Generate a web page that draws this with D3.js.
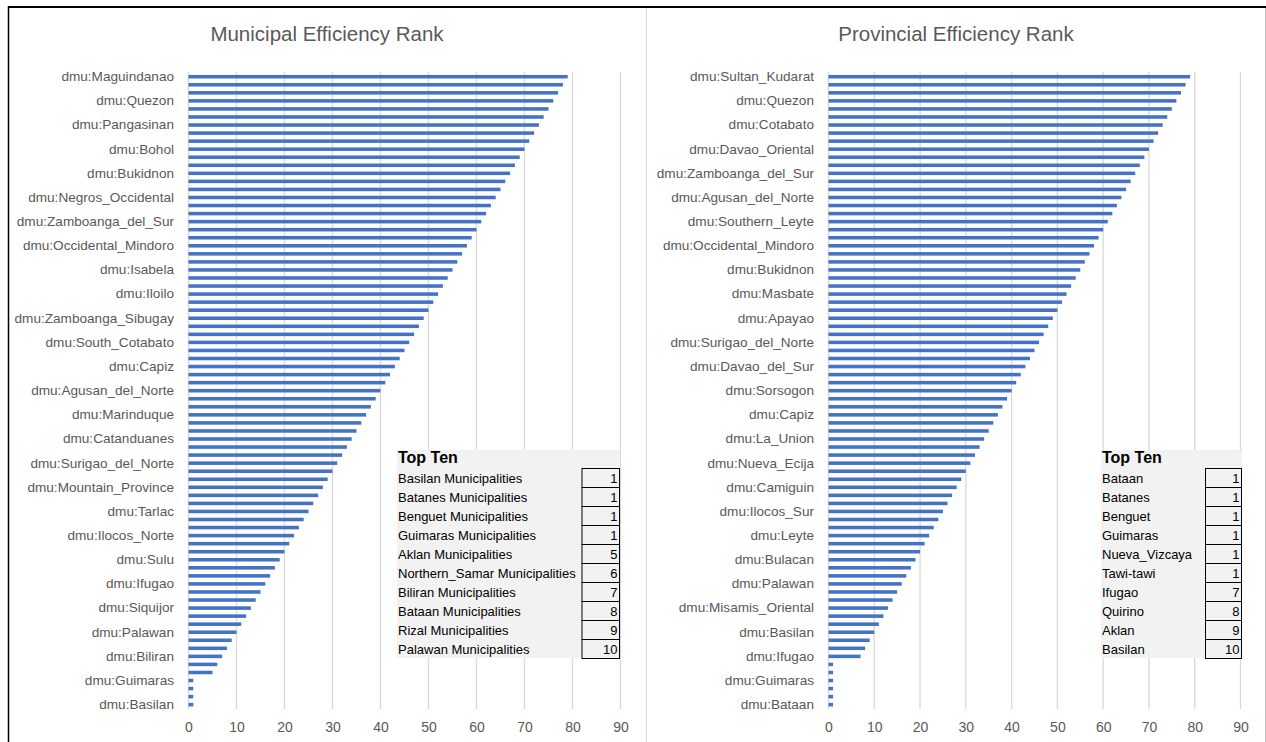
<!DOCTYPE html>
<html>
<head>
<meta charset="utf-8">
<script src="https://cdn.jsdelivr.net/npm/d3@7"></script>
<style>
  body { margin: 0; background: #fff; }
  text { font-family: "Liberation Sans", Arial, sans-serif; }
</style>
</head>
<body>
<div id="chart"></div>
<script>
// rank values, top bar to bottom bar
var munValues = [79,78,77,76,75,74,73,72,71,70,69,68,67,66,65,64,63,62,61,60,
  59,58,57,56,55,54,53,52,51,50,49,48,47,46,45,44,43,42,41,40,
  39,38,37,36,35,34,33,32,31,30,29,28,27,26,25,24,23,22,21,20,
  19,18,17,16,15,14,13,12,11,10,9,8,7,6,5,1,1,1,1];
var provValues = [79,78,77,76,75,74,73,72,71,70,69,68,67,66,65,64,63,62,61,60,
  59,58,57,56,55,54,53,52,51,50,49,48,47,46,45,44,43,42,41,40,
  39,38,37,36,35,34,33,32,31,30,29,28,27,26,25,24,23,22,21,20,
  19,18,17,16,15,14,13,12,11,10,9,8,7,1,1,1,1,1,1];

// labels shown on the category axis (every third bar)
var munLabels = ["dmu:Maguindanao","dmu:Quezon","dmu:Pangasinan","dmu:Bohol","dmu:Bukidnon",
  "dmu:Negros_Occidental","dmu:Zamboanga_del_Sur","dmu:Occidental_Mindoro","dmu:Isabela",
  "dmu:Iloilo","dmu:Zamboanga_Sibugay","dmu:South_Cotabato","dmu:Capiz","dmu:Agusan_del_Norte",
  "dmu:Marinduque","dmu:Catanduanes","dmu:Surigao_del_Norte","dmu:Mountain_Province",
  "dmu:Tarlac","dmu:Ilocos_Norte","dmu:Sulu","dmu:Ifugao","dmu:Siquijor","dmu:Palawan",
  "dmu:Biliran","dmu:Guimaras","dmu:Basilan"];
var provLabels = ["dmu:Sultan_Kudarat","dmu:Quezon","dmu:Cotabato","dmu:Davao_Oriental",
  "dmu:Zamboanga_del_Sur","dmu:Agusan_del_Norte","dmu:Southern_Leyte","dmu:Occidental_Mindoro",
  "dmu:Bukidnon","dmu:Masbate","dmu:Apayao","dmu:Surigao_del_Norte","dmu:Davao_del_Sur",
  "dmu:Sorsogon","dmu:Capiz","dmu:La_Union","dmu:Nueva_Ecija","dmu:Camiguin","dmu:Ilocos_Sur",
  "dmu:Leyte","dmu:Bulacan","dmu:Palawan","dmu:Misamis_Oriental","dmu:Basilan","dmu:Ifugao",
  "dmu:Guimaras","dmu:Bataan"];

var xTicks = [0,10,20,30,40,50,60,70,80,90];

var munTopNames = ["Basilan Municipalities","Batanes Municipalities","Benguet Municipalities",
  "Guimaras Municipalities","Aklan Municipalities","Northern_Samar Municipalities",
  "Biliran Municipalities","Bataan Municipalities","Rizal Municipalities","Palawan Municipalities"];
var munTopRanks = [1,1,1,1,5,6,7,8,9,10];
var provTopNames = ["Bataan","Batanes","Benguet","Guimaras","Nueva_Vizcaya","Tawi-tawi",
  "Ifugao","Quirino","Aklan","Basilan"];
var provTopRanks = [1,1,1,1,1,1,7,8,9,10];

var W = 1266, H = 742;
var svg = d3.select("#chart").append("svg")
  .attr("width", W).attr("height", H);

// frame lines
svg.append("line").attr("x1", 8).attr("x2", W).attr("y1", 7).attr("y2", 7)
  .attr("stroke", "#000").attr("stroke-width", 2);
svg.append("line").attr("x1", 8.5).attr("x2", 8.5).attr("y1", 6).attr("y2", H)
  .attr("stroke", "#000").attr("stroke-width", 1.5);
svg.append("line").attr("x1", 646.5).attr("x2", 646.5).attr("y1", 8).attr("y2", H)
  .attr("stroke", "#d9d9d9");
svg.append("line").attr("x1", 1265.5).attr("x2", 1265.5).attr("y1", 8).attr("y2", H)
  .attr("stroke", "#bfbfbf");

function drawPanel(opt) {
  var g = svg.append("g");

  var x = d3.scaleLinear().domain([0, 90]).range(opt.xRange);
  var y = d3.scaleBand()
    .domain(d3.range(opt.values.length))
    .range([72.7, 708.7])
    .paddingInner(0.56)
    .paddingOuter(0.28);

  g.append("text")
    .attr("x", opt.titleX).attr("y", 41)
    .attr("text-anchor", "middle")
    .style("font-size", "20.5px")
    .style("fill", "#595959")
    .text(opt.title);

  // gridlines
  g.selectAll("line.grid")
    .data(xTicks)
    .enter()
    .append("line")
      .attr("class", "grid")
      .attr("x1", function(d) { return x(d); })
      .attr("x2", function(d) { return x(d); })
      .attr("y1", 72)
      .attr("y2", 709)
      .attr("stroke", "#d9d9d9")
      .attr("stroke-width", 1.3);

  // bars
  g.selectAll("rect.bar")
    .data(opt.values)
    .enter()
    .append("rect")
      .attr("class", "bar")
      .attr("x", x(0))
      .attr("y", function(d, i) { return y(i); })
      .attr("width", function(d) { return x(d) - x(0); })
      .attr("height", y.bandwidth())
      .attr("fill", "#4472c4");

  // category axis, every third bar labelled
  var yAxis = g.append("g")
    .attr("transform", "translate(" + opt.xRange[0] + ",0)")
    .call(d3.axisLeft(y)
      .tickValues(y.domain().filter(function(d, i) { return !(i % 3); }))
      .tickFormat(function(d) { return opt.labels[d / 3]; })
      .tickSize(0)
      .tickPadding(opt.xRange[0] - opt.labelRight));
  yAxis.select(".domain").remove();
  yAxis.selectAll("text")
    .style("font-size", "13.6px")
    .style("fill", "#595959")
    .style("font-family", "'Liberation Sans', Arial, sans-serif");

  var xAxis = g.append("g")
    .attr("transform", "translate(0,719)")
    .call(d3.axisBottom(x).tickValues(xTicks).tickSize(0));
  xAxis.select(".domain").remove();
  xAxis.selectAll("text")
    .style("font-size", "14px")
    .style("fill", "#595959")
    .style("font-family", "'Liberation Sans', Arial, sans-serif");

  // Top Ten table
  var t = opt.table;
  var tg = g.append("g");
  tg.append("rect")
    .attr("x", t.x).attr("y", 450)
    .attr("width", t.right - t.x).attr("height", 208)
    .attr("fill", "#f2f2f2");
  tg.append("text")
    .attr("x", t.x + 1).attr("y", 463)
    .style("font-size", "16px")
    .style("font-weight", "bold")
    .style("fill", "#000")
    .text("Top Ten");

  var rowH = 19, top = 468.5;
  tg.selectAll("text.name")
    .data(opt.topNames)
    .enter()
    .append("text")
      .attr("class", "name")
      .attr("x", t.x + 1)
      .attr("y", function(d, i) { return top + i * rowH + 14; })
      .style("font-size", "13px")
      .style("fill", "#000")
      .text(function(d) { return d; });
  tg.selectAll("rect.cell")
    .data(opt.topRanks)
    .enter()
    .append("rect")
      .attr("class", "cell")
      .attr("x", t.box + 0.5)
      .attr("y", function(d, i) { return top + i * rowH; })
      .attr("width", t.right - t.box - 1)
      .attr("height", rowH)
      .attr("fill", "none")
      .attr("stroke", "#000")
      .attr("stroke-width", 1);
  tg.selectAll("text.rank")
    .data(opt.topRanks)
    .enter()
    .append("text")
      .attr("class", "rank")
      .attr("x", t.right - 2.5)
      .attr("y", function(d, i) { return top + i * rowH + 14; })
      .attr("text-anchor", "end")
      .style("font-size", "13px")
      .style("fill", "#000")
      .text(function(d) { return d; });
}

drawPanel({
  title: "Municipal Efficiency Rank",
  titleX: 327,
  values: munValues,
  labels: munLabels,
  xRange: [188.5, 620.5],
  labelRight: 174,
  topNames: munTopNames,
  topRanks: munTopRanks,
  table: {x: 397, box: 581.5, right: 620}
});

drawPanel({
  title: "Provincial Efficiency Rank",
  titleX: 956,
  values: provValues,
  labels: provLabels,
  xRange: [828.5, 1240.5],
  labelRight: 814,
  topNames: provTopNames,
  topRanks: provTopRanks,
  table: {x: 1101, box: 1205, right: 1242}
});
</script>
</body>
</html>
